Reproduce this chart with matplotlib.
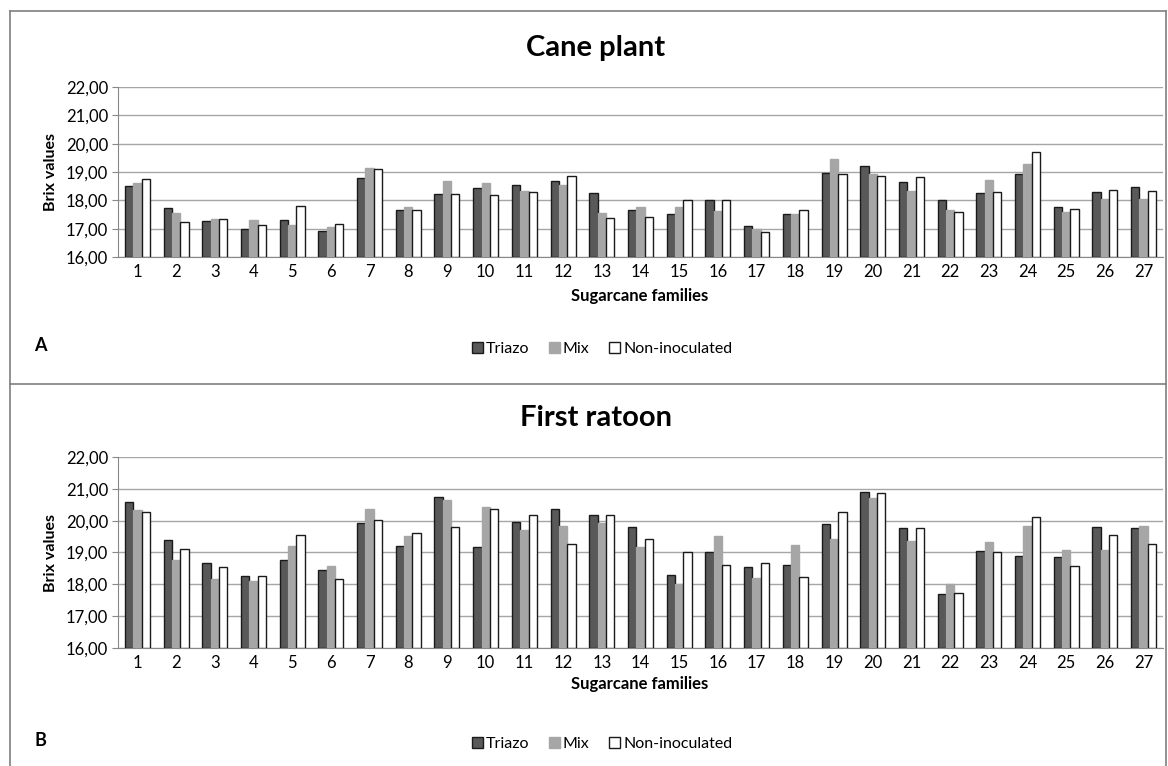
import numpy as np
import matplotlib.pyplot as plt
from matplotlib.lines import Line2D
from matplotlib.ticker import FuncFormatter

plt.rcParams['font.family'] = ['Lato', 'DejaVu Sans']

families = [str(i) for i in range(1, 28)]
series_names = ["Triazo", "Mix", "Non-inoculated"]

# Cane plant
cane_triazo = [18.50, 17.72, 17.27, 17.00, 17.29, 16.93, 18.78, 17.66, 18.24, 18.45,
               18.54, 18.68, 18.26, 17.67, 17.50, 18.00, 17.08, 17.53, 18.96, 19.20,
               18.65, 18.01, 18.27, 18.94, 17.78, 18.30, 18.47]
cane_mix = [18.62, 17.55, 17.33, 17.30, 17.13, 17.06, 19.13, 17.78, 18.68, 18.60,
            18.34, 18.54, 17.56, 17.75, 17.75, 17.64, 17.00, 17.50, 19.47, 18.94,
            18.34, 17.67, 18.73, 19.28, 17.60, 18.06, 18.06]
cane_non = [18.77, 17.23, 17.34, 17.14, 17.80, 17.18, 19.10, 17.66, 18.24, 18.18,
            18.29, 18.87, 17.38, 17.41, 18.00, 18.00, 16.87, 17.66, 18.93, 18.87,
            18.81, 17.60, 18.30, 19.70, 17.70, 18.36, 18.33]

# First ratoon
rat_triazo = [20.58, 19.38, 18.68, 18.25, 18.78, 18.45, 19.93, 19.21, 20.74, 19.18,
              19.96, 20.38, 20.17, 19.81, 18.28, 19.02, 18.55, 18.61, 19.89, 20.90,
              19.76, 17.70, 19.05, 18.88, 18.86, 19.79, 19.77]
rat_mix = [20.32, 18.78, 18.16, 18.10, 19.21, 18.59, 20.36, 19.51, 20.65, 20.44,
           19.72, 19.82, 19.93, 19.18, 18.00, 19.51, 18.21, 19.24, 19.42, 20.72,
           19.36, 18.00, 19.32, 19.82, 19.07, 19.09, 19.82]
rat_non = [20.27, 19.10, 18.53, 18.25, 19.56, 18.18, 20.03, 19.62, 19.80, 20.38,
           20.19, 19.26, 20.19, 19.42, 19.02, 18.61, 18.68, 18.23, 20.27, 20.88,
           19.76, 17.72, 19.02, 20.11, 18.58, 19.54, 19.26]

W, H = 1168, 766
fig = plt.figure(figsize=(W / 100, H / 100), dpi=100)

face = ["#595959", "#A6A6A6", "#FFFFFF"]
edge = ["#1A1A1A", "#A6A6A6", "#1A1A1A"]

def fy(py):
    return 1 - py / H

def fx(px):
    return px / W

def panel(data, title, letter, ax_top, ax_bot, title_y, xl_y, leg_y):
    ax = fig.add_axes([fx(118), fy(ax_bot), fx(1163) - fx(118), fy(ax_top) - fy(ax_bot)])
    x = np.arange(len(families))
    bw = 0.215
    for i, vals in enumerate(data):
        ax.bar(x + (i - 1) * bw, np.array(vals) - 16, bw, bottom=16, color=face[i],
               edgecolor=edge[i], linewidth=1.0, label=series_names[i], zorder=3)
    ax.set_ylim(16, 22)
    ax.set_xlim(-0.5, len(families) - 0.5)
    ax.set_yticks(np.arange(16, 23, 1))
    ax.yaxis.set_major_formatter(FuncFormatter(lambda v, p: f"{v:.2f}".replace(".", ",")))
    ax.set_xticks(x)
    ax.set_xticklabels(families)
    ax.tick_params(axis='x', length=0, labelsize=12, pad=5, colors="#000000")
    ax.tick_params(axis='y', length=4, color="#888888", labelsize=12, pad=3)
    ax.grid(axis='y', color="#A6A6A6", linewidth=1.0, zorder=0)
    for s in ["top", "right"]:
        ax.spines[s].set_visible(False)
    ax.spines["left"].set_color("#888888")
    ax.spines["bottom"].set_color("#888888")
    ax.set_ylabel("Brix values", fontsize=11.5, fontweight='bold', labelpad=6)
    fig.text(fx(596), fy(title_y), title, fontsize=21, fontweight='bold', ha='center', va='center')
    fig.text(fx(640), fy(xl_y), "Sugarcane families", fontsize=12, fontweight='bold',
             ha='center', va='center')
    fig.text(fx(40), fy(leg_y - 3), letter, fontsize=13, fontweight='bold', ha='center', va='center')
    handles, labels = ax.get_legend_handles_labels()
    fig.legend(handles, labels, loc='center', bbox_to_anchor=(fx(602), fy(leg_y)), ncol=3,
               frameon=False, fontsize=11.5, handlelength=0.7, handleheight=0.7,
               handletextpad=0.2, columnspacing=1.2)
    return ax

panel([cane_triazo, cane_mix, cane_non], "Cane plant", "A", 87, 257, 48, 296, 349)
panel([rat_triazo, rat_mix, rat_non], "First ratoon", "B", 457, 648, 418, 684, 744)

# panel borders
bc = "#7F7F7F"
fig.add_artist(Line2D([fx(10), fx(10)], [fy(11), 0], color=bc, lw=1.2))
fig.add_artist(Line2D([fx(1166), fx(1166)], [fy(11), 0], color=bc, lw=1.2))
fig.add_artist(Line2D([fx(10), fx(1166)], [fy(11), fy(11)], color=bc, lw=1.2))
fig.add_artist(Line2D([fx(10), fx(1166)], [fy(384), fy(384)], color=bc, lw=1.2))

fig.savefig("out.png", dpi=100)
